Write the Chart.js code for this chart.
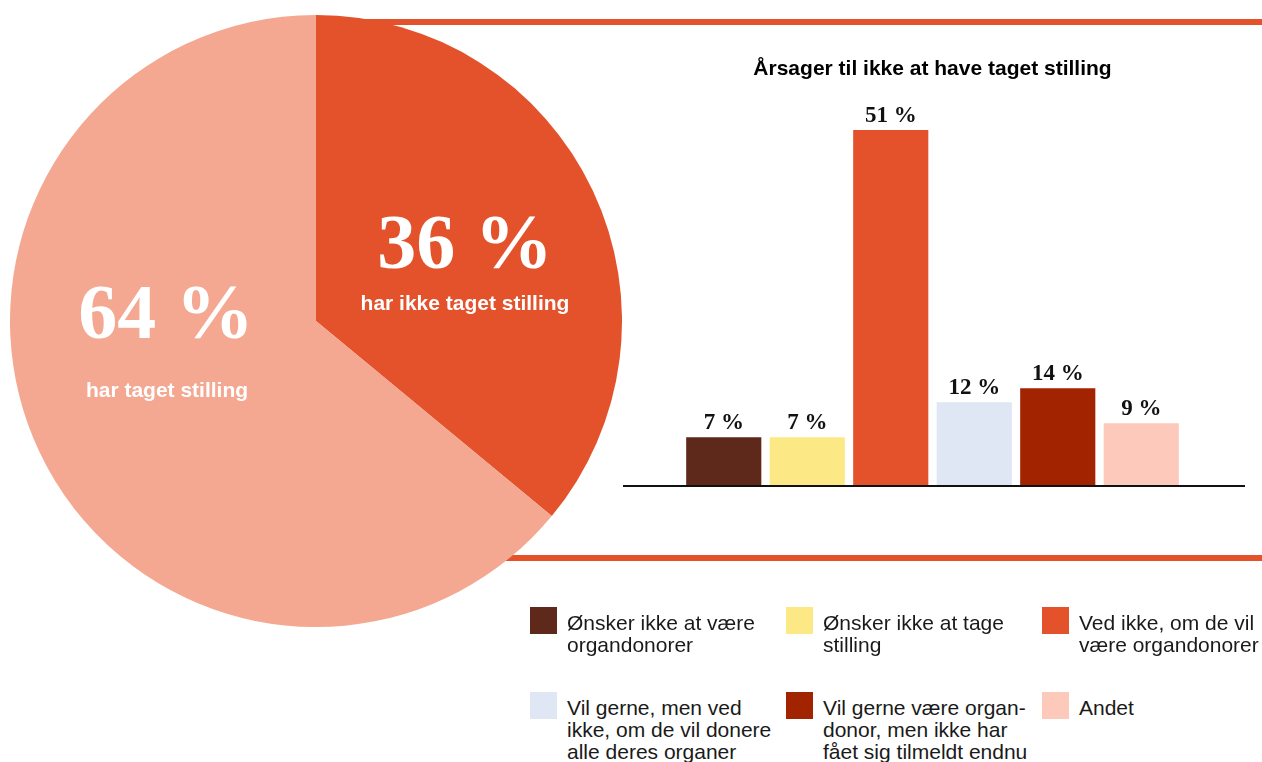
<!DOCTYPE html>
<html lang="da">
<head>
<meta charset="UTF-8" />
<meta name="viewport" content="width=device-width, initial-scale=1.0" />
<title>Årsager til ikke at have taget stilling</title>
<script src="https://cdn.jsdelivr.net/npm/chart.js"></script>
<style>
  html, body { margin: 0; padding: 0; background: #fff; }
  body {
    width: 1262px; height: 762px; overflow: hidden; position: relative;
    font-family: "Liberation Sans", Arial, sans-serif;
  }
  .rule { position: absolute; background: #e4522c; height: 6px; }
  #pieBox { position: absolute; left: 10px; top: 15px; width: 612px; height: 612px; }
  #barBox { position: absolute; left: 623px; top: 40px; width: 622px; height: 460px; }
  .legend { position: absolute; left: 530px; top: 607px; }
  .item { position: absolute; }
  .swatch { position: absolute; left: 0; top: 0; width: 27px; height: 27px; }
  .txt {
    position: absolute; left: 37px; top: 5px;
    font-size: 21px; line-height: 22px; white-space: pre; color: #1a1a1a;
  }
</style>
</head>
<body>
  <div class="rule" style="left:300px; top:19px; width:962px;"></div>
  <div class="rule" style="left:450px; top:555px; width:812px;"></div>

  <div id="pieBox"><canvas id="pieChart"></canvas></div>
  <div id="barBox"><canvas id="barChart"></canvas></div>
  <div class="legend" id="legend"></div>

<script>
  // pie: share who has / has not taken a position
  const pieLabels = ["har ikke taget stilling", "har taget stilling"];
  const pieValues = [36, 64];
  const pieColors = ["#e4522c", "#f4a891"];

  // bars: reasons for not having taken a position
  const barTitle = "Årsager til ikke at have taget stilling";
  const categories = [
    "Ønsker ikke at være\norgandonorer",
    "Ønsker ikke at tage\nstilling",
    "Ved ikke, om de vil\nvære organdonorer",
    "Vil gerne, men ved\nikke, om de vil donere\nalle deres organer",
    "Vil gerne være organ-\ndonor, men ikke har\nfået sig tilmeldt endnu",
    "Andet",
  ];
  const barValues = [7, 7, 51, 12, 14, 9];
  const barColors = ["#5e291b", "#fde886", "#e4522c", "#dfe7f5", "#a12300", "#fdc9ba"];

  // text offsets from the pie centre, per slice: [numberDx, numberDy, labelDx, labelDy]
  const pieTextOffsets = [
    [149, -53, 149, -11],
    [-150, 17, -149, 76],
  ];

  const pieText = {
    id: "pieText",
    afterDatasetsDraw(chart) {
      const ctx = chart.ctx;
      const arcs = chart.getDatasetMeta(0).data;
      ctx.save();
      ctx.fillStyle = "#fff";
      ctx.textAlign = "center";
      ctx.textBaseline = "alphabetic";
      arcs.forEach((arc, i) => {
        const o = pieTextOffsets[i];
        ctx.font = "bold 78px 'Liberation Serif', 'DejaVu Serif', serif";
        ctx.fillText(pieValues[i] + " %", arc.x + o[0], arc.y + o[1]);
        ctx.font = "bold 21px 'Liberation Sans', Arial, sans-serif";
        ctx.fillText(pieLabels[i], arc.x + o[2], arc.y + o[3]);
      });
      ctx.restore();
    },
  };

  new Chart(document.getElementById("pieChart"), {
    type: "pie",
    data: {
      labels: pieLabels,
      datasets: [{
        data: pieValues,
        backgroundColor: pieColors,
        borderWidth: 0,
        hoverOffset: 0,
      }],
    },
    options: {
      responsive: true,
      maintainAspectRatio: false,
      animation: false,
      layout: { padding: 0 },
      plugins: { legend: { display: false }, tooltip: { enabled: false } },
    },
    plugins: [pieText],
  });

  // base line + value labels on the bars
  const barExtras = {
    id: "barExtras",
    afterDatasetsDraw(chart) {
      const ctx = chart.ctx;
      const y0 = chart.scales.y.getPixelForValue(0);
      ctx.save();
      ctx.strokeStyle = "#111";
      ctx.lineWidth = 2;
      ctx.beginPath();
      ctx.moveTo(0, y0);
      ctx.lineTo(chart.width, y0);
      ctx.stroke();

      ctx.fillStyle = "#111";
      ctx.textAlign = "center";
      ctx.textBaseline = "alphabetic";
      ctx.font = "bold 23px 'Liberation Serif', 'DejaVu Serif', serif";
      chart.getDatasetMeta(0).data.forEach((bar, i) => {
        ctx.fillText(barValues[i] + " %", bar.x, bar.y - 8);
      });
      ctx.restore();
    },
  };

  new Chart(document.getElementById("barChart"), {
    type: "bar",
    data: {
      labels: categories,
      datasets: [{
        data: barValues,
        backgroundColor: barColors,
        borderWidth: 0,
        barPercentage: 0.9,
        categoryPercentage: 1.0,
      }],
    },
    options: {
      responsive: true,
      maintainAspectRatio: false,
      animation: false,
      layout: { padding: { left: 59, right: 62, top: 0, bottom: 14 } },
      scales: {
        x: { display: false, offset: true },
        y: { display: false, min: 0, max: 55 },
      },
      plugins: {
        legend: { display: false },
        tooltip: { enabled: false },
        title: {
          display: true,
          text: barTitle,
          color: "#000",
          font: { family: "'Liberation Sans', Arial, sans-serif", size: 21, weight: "bold" },
          padding: { top: 17, bottom: 20 },
        },
      },
    },
    plugins: [barExtras],
  });

  // legend, three columns by two rows
  const legend = document.getElementById("legend");
  categories.forEach((name, i) => {
    const item = document.createElement("div");
    item.className = "item";
    item.style.left = (i % 3) * 256 + "px";
    item.style.top = Math.floor(i / 3) * 85 + "px";
    const sw = document.createElement("div");
    sw.className = "swatch";
    sw.style.background = barColors[i];
    const txt = document.createElement("div");
    txt.className = "txt";
    txt.textContent = name;
    item.appendChild(sw);
    item.appendChild(txt);
    legend.appendChild(item);
  });
</script>
</body>
</html>
